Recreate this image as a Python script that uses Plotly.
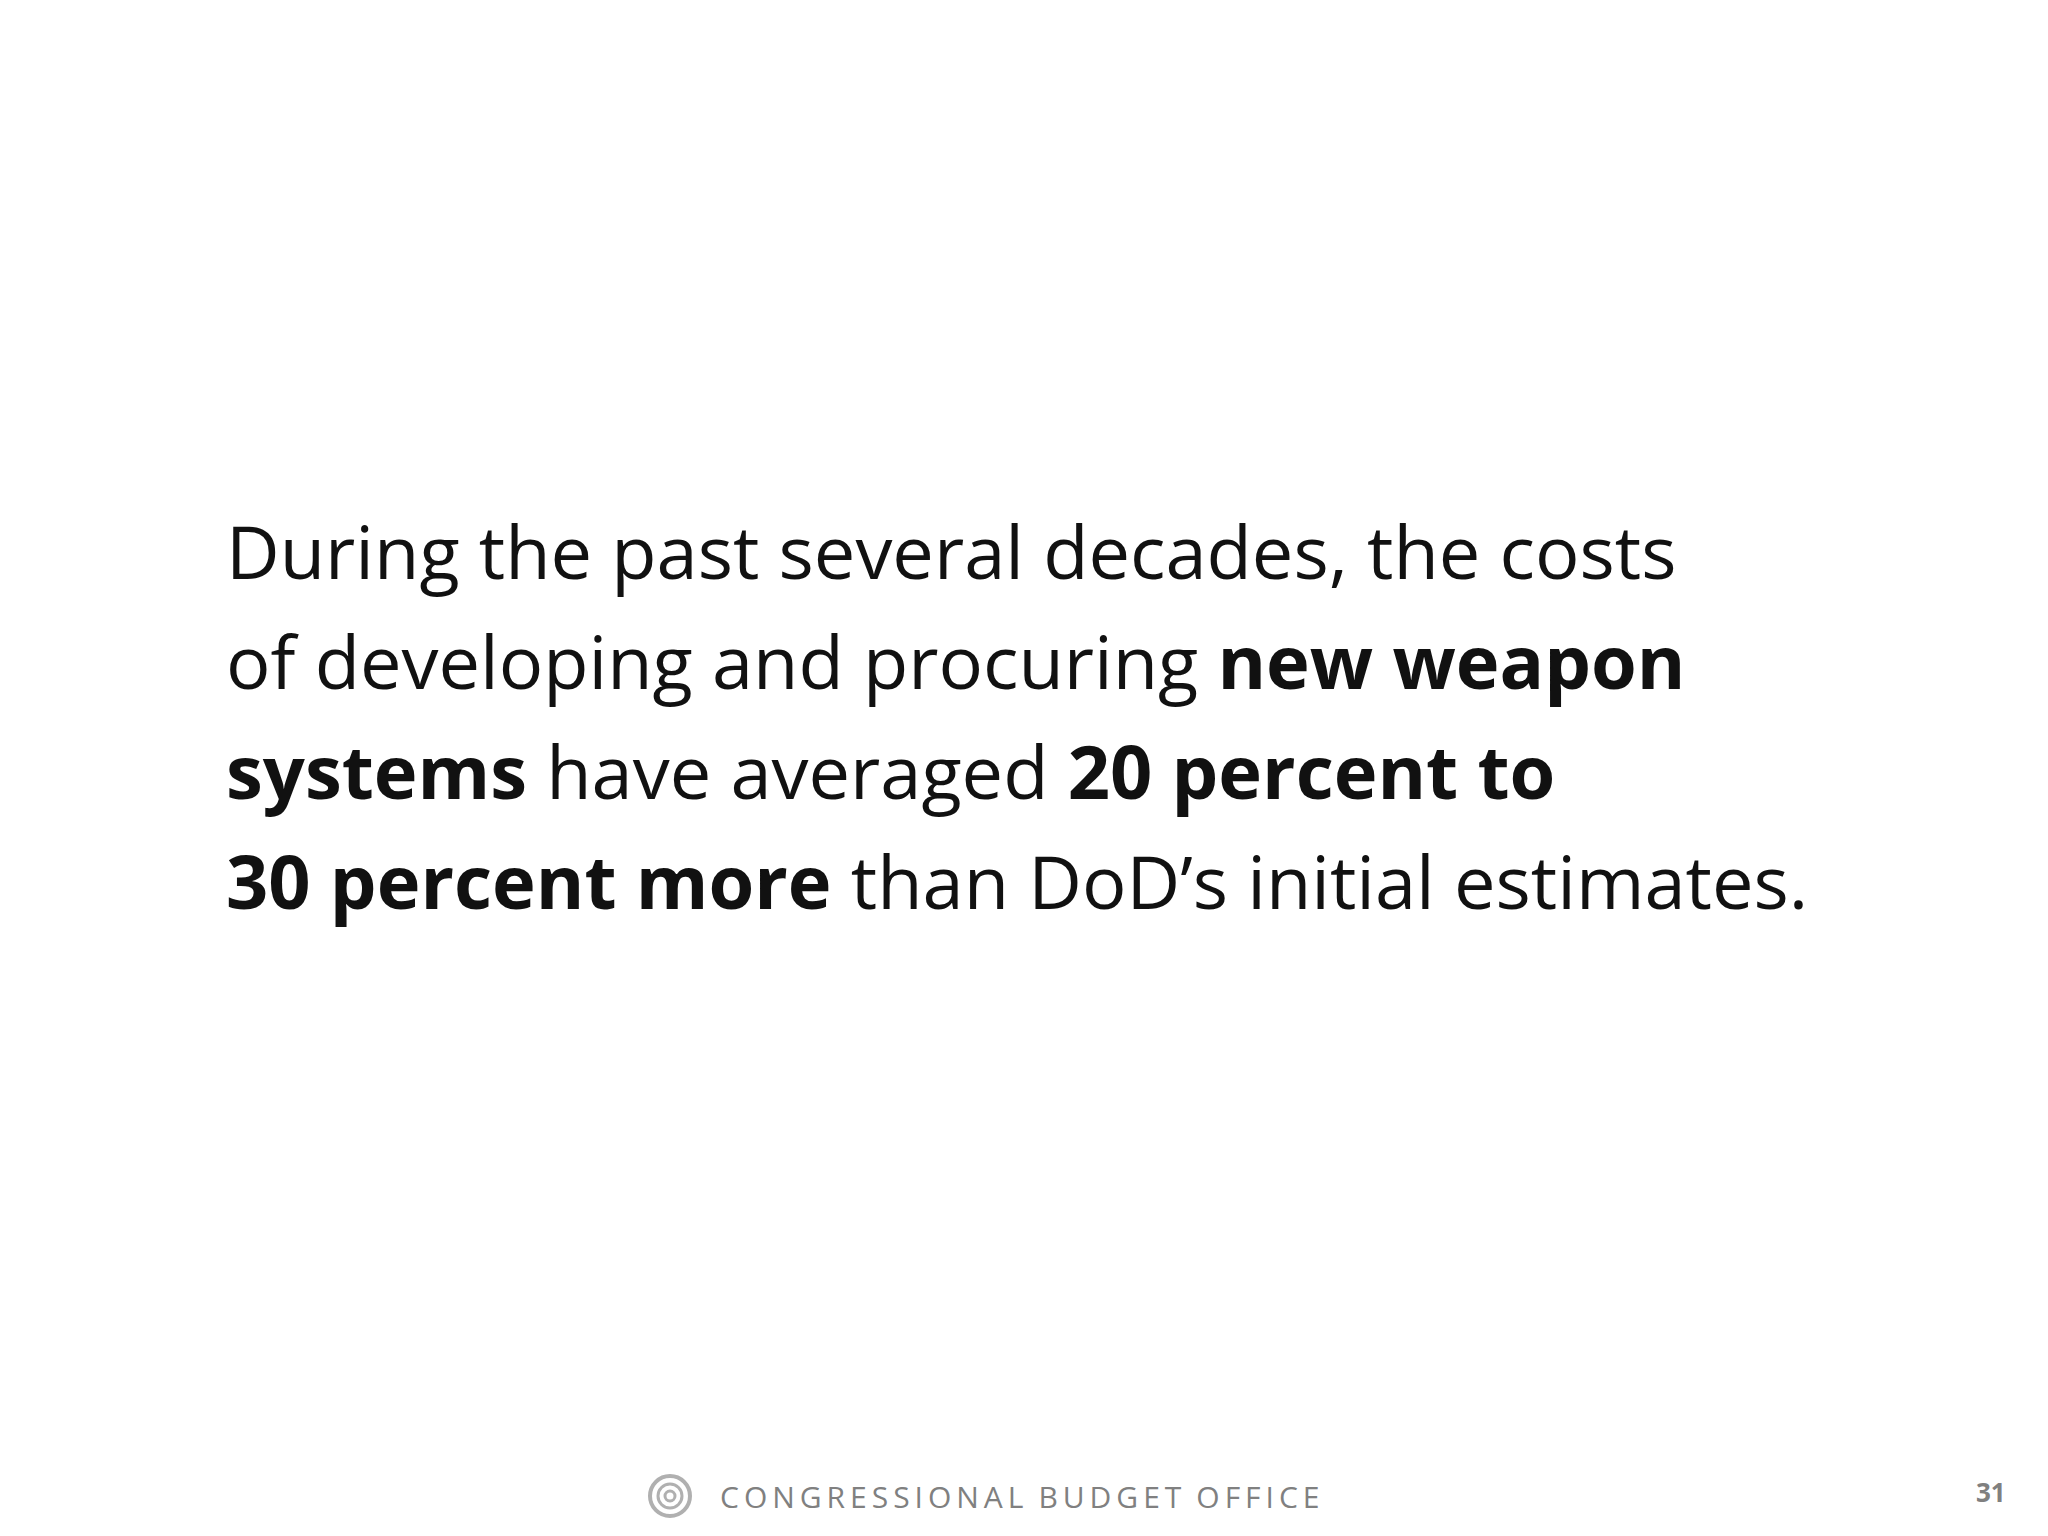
import plotly.graph_objects as go

# slide text, one entry per line (bold runs marked with <b>)
lines = [
    "During the past several decades, the costs",
    "of developing and procuring <b>new weapon</b>",
    "<b>systems</b> have averaged <b>20 percent to</b>",
    "<b>30 percent more</b> than DoD\u2019s initial estimates.",
]
footer = "CONGRESSIONAL BUDGET OFFICE"
page_number = "31"

fig = go.Figure()
fig.update_layout(
    width=2048, height=1536,
    margin=dict(l=0, r=0, t=0, b=0),
    paper_bgcolor="white", plot_bgcolor="white",
    xaxis=dict(visible=False, range=[0, 2048]),
    yaxis=dict(visible=False, range=[1536, 0]),
    font_family="Open Sans",
)

y0, step = 542, 110
for i, txt in enumerate(lines):
    fig.add_annotation(
        x=216, y=y0 + i * step, text=txt, showarrow=False,
        xanchor="left", yanchor="middle",
        font=dict(size=74, color="#111111"),
    )

spaced = "\u2002".join("\u2009".join(w) for w in footer.split(" "))
fig.add_annotation(
    x=710, y=1488, text=spaced, showarrow=False, xanchor="left", yanchor="middle",
    font=dict(size=30, color="#808080"),
)
fig.add_annotation(
    x=2000, y=1484, text="<b>" + page_number + "</b>", showarrow=False,
    xanchor="right", yanchor="middle", font=dict(size=26, color="#808080"),
)
# small circular logo
for r, w in [(20, 4), (12, 3), (5, 3)]:
    fig.add_shape(type="circle", x0=662 - r, x1=662 + r, y0=1488 - r, y1=1488 + r,
                  line=dict(color="#b0b0b0", width=w))

fig.write_html("out.html")
